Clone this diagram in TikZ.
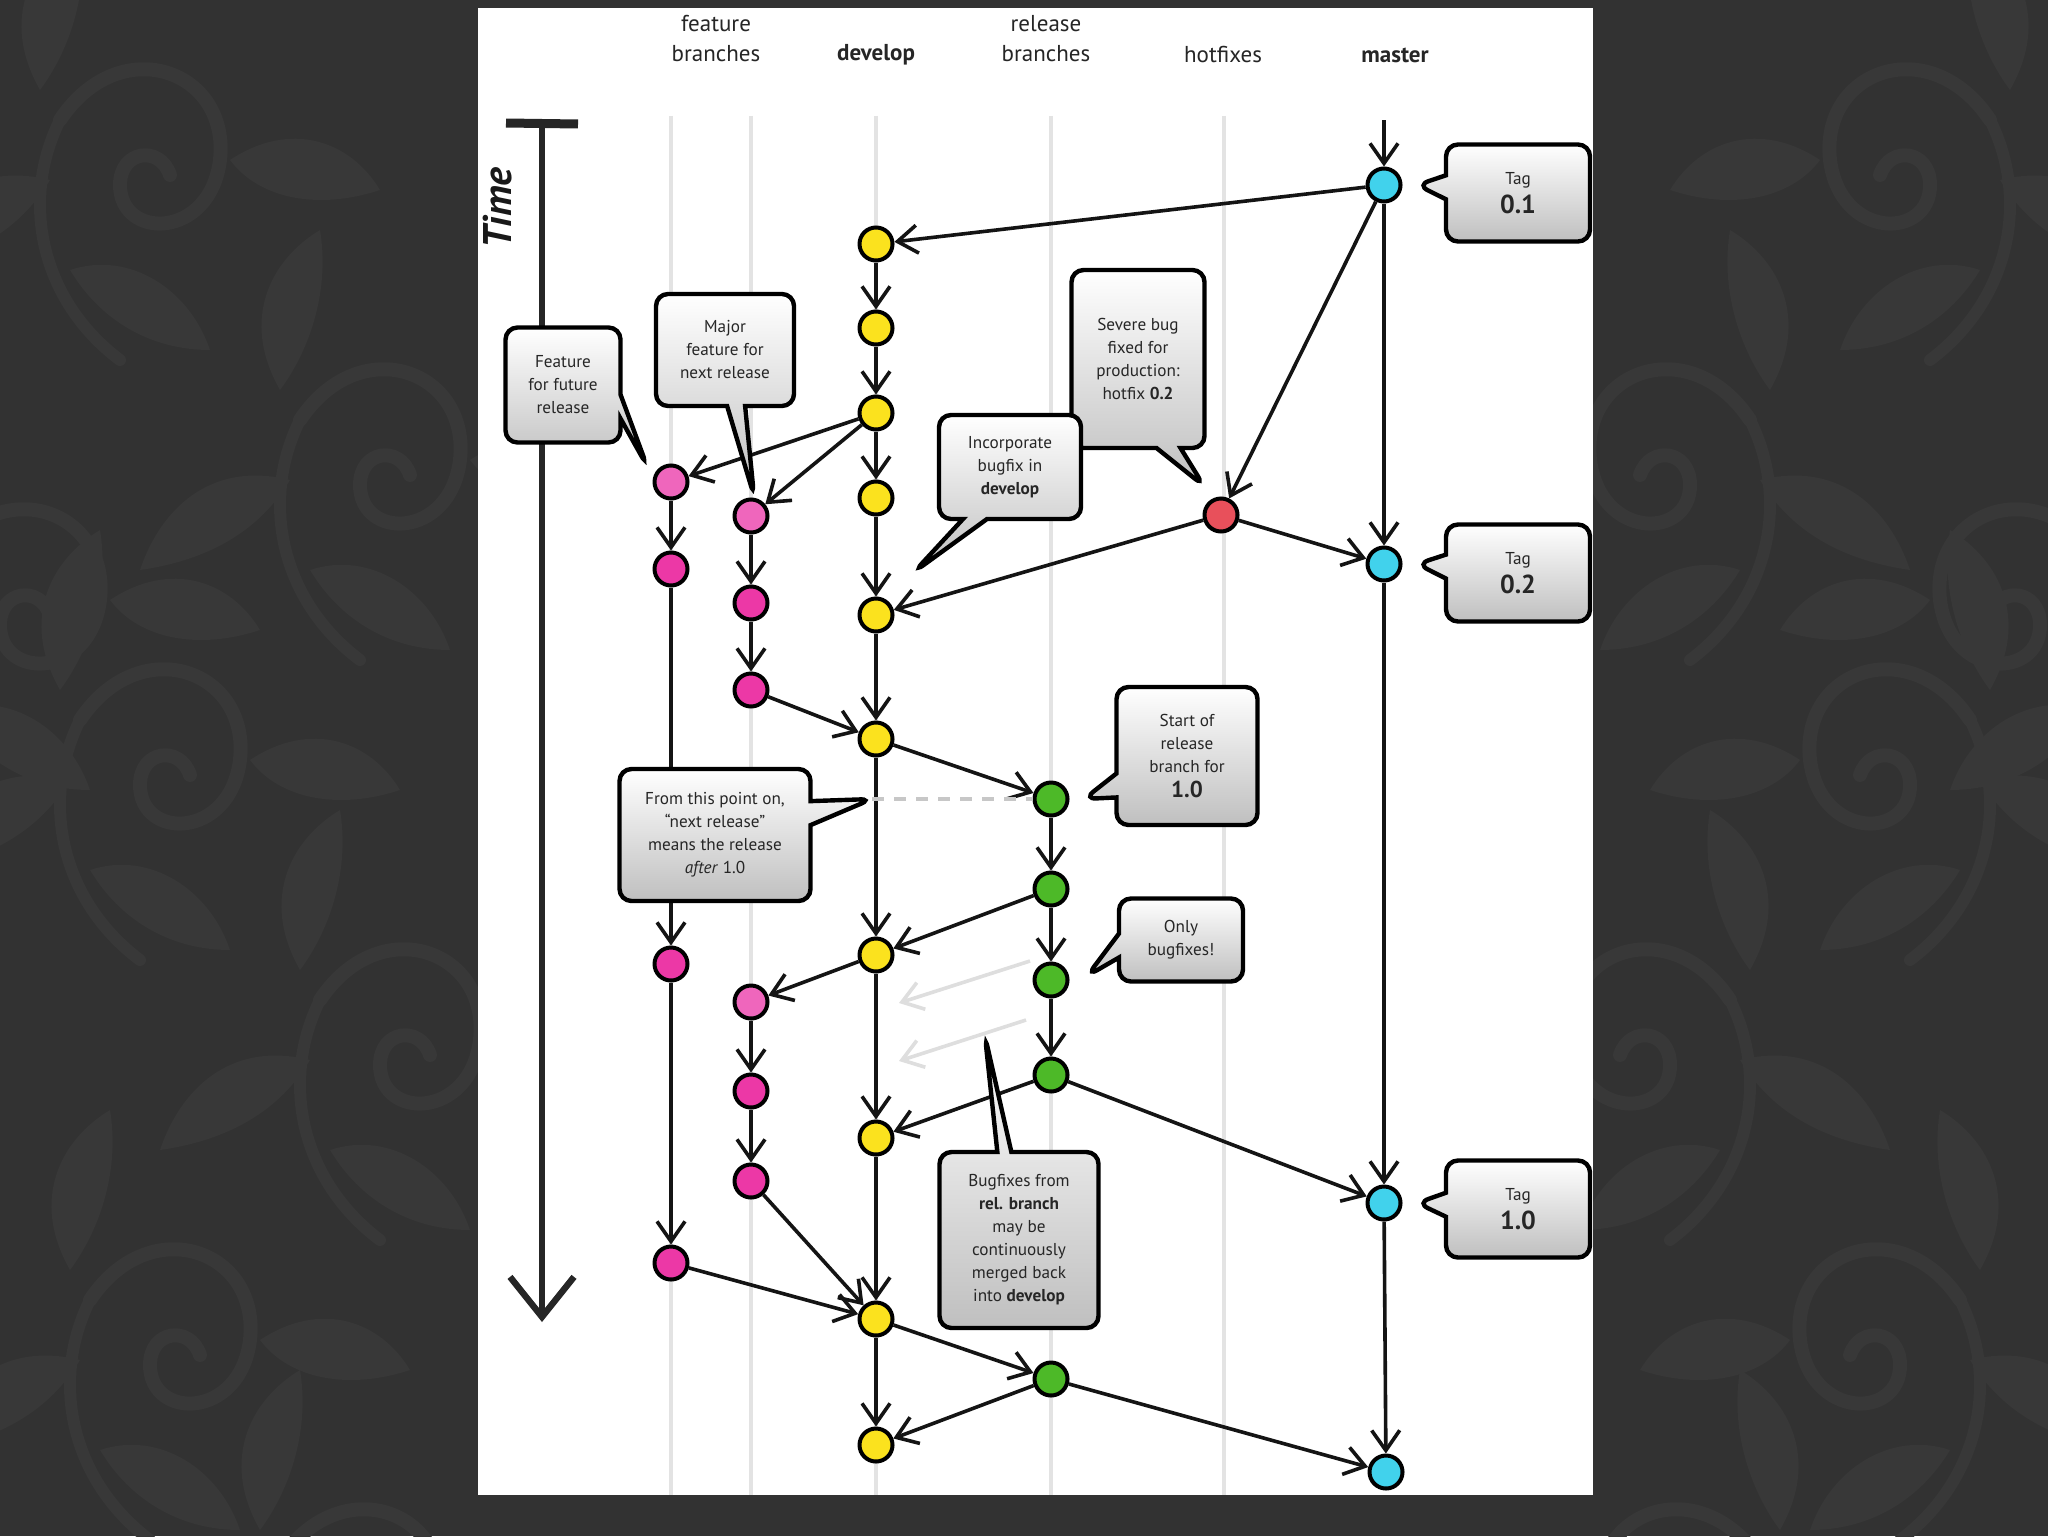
\documentclass[tikz,border=0pt]{standalone}
\usepackage{fontspec}
\setmainfont{PT Sans}
\usetikzlibrary{arrows.meta,shapes.callouts}
\definecolor{bgdark}{HTML}{323232}
\definecolor{bgpat}{HTML}{383838}
\definecolor{yel}{HTML}{FBE21E}
\definecolor{pinkL}{HTML}{EF66BC}
\definecolor{pinkD}{HTML}{EC38A6}
\definecolor{grn}{HTML}{4DB928}
\definecolor{cyn}{HTML}{41D2EC}
\definecolor{redc}{HTML}{E8505B}
\tikzset{
  commit/.style={circle, draw=black, line width=2pt, minimum size=16.5pt, inner sep=0pt},
  flow/.style={draw=black!92, line width=1.8pt, -{Straight Barb[length=10pt,width=14pt]}},
  faint/.style={draw=black!13, line width=1.8pt, -{Straight Barb[length=10pt,width=14pt]}},
  lane/.style={draw=black!11, line width=2.2pt},
  hdr/.style={align=center, font=\fontsize{11.5}{15}\selectfont, text=black!85, inner sep=0pt},
  cbox/.style={rectangle callout, draw=black, line width=2.2pt, rounded corners=6pt,
    top color=white, bottom color=black!25, align=center,
    font=\fontsize{8.6}{11.5}\selectfont, text=black!85, inner sep=2pt,
    callout pointer width=12pt},
  damask/.pic={
    \draw[bgpat, line width=7pt, line cap=round]
      (0,0) .. controls (60,-90) and (170,-50) .. (160,40)
            .. controls (150,120) and (60,120) .. (60,65)
            .. controls (60,30) and (100,25) .. (110,55);
    \draw[bgpat, line width=6pt, line cap=round]
      (0,0) .. controls (-40,80) and (-20,180) .. (60,240);
    \fill[bgpat] (-10,60) .. controls (-90,40) and (-140,90) .. (-160,150)
                 .. controls (-90,140) and (-40,110) .. (-10,60);
    \fill[bgpat] (10,150) .. controls (70,130) and (130,170) .. (150,230)
                 .. controls (90,230) and (40,200) .. (10,150);
    \fill[bgpat] (-20,-30) .. controls (-60,-100) and (-30,-160) .. (20,-190)
                 .. controls (30,-130) and (10,-70) .. (-20,-30);
    \fill[bgpat] (170,40) .. controls (230,0) and (290,20) .. (320,70)
                 .. controls (260,90) and (200,80) .. (170,40);
  },
}
\begin{document}
\begin{tikzpicture}[x=0.5pt,y=-0.5pt]
\useasboundingbox (0,0) rectangle (2048,1536);
\fill[bgdark] (0,0) rectangle (2048,1536);
\begin{scope}
\clip (0,0) rectangle (2048,1536);
\foreach \px/\py in {60/120,300/420,80/720,320/1000,90/1300,280/1560,-60/560}
  \pic at (\px,\py) {damask};
\foreach \px/\py in {1990/120,1750/420,1970/720,1730/1000,1960/1300,1760/1560,2100/560}
  \pic[xscale=-1] at (\px,\py) {damask};
\end{scope}
\fill[white] (478,8) rectangle (1593,1495);

% headers
\node[hdr] (hfeat) at (716,39) {feature\\branches};
\node[hdr] (hdev) at (876,55) {\textbf{develop}};
\node[hdr] (hrel) at (1046,39) {release\\branches};
\node[hdr] (hhot) at (1223,55) {hotfixes};
\node[hdr] (hmas) at (1395,55) {\textbf{master}};

% lanes
\foreach \x in {671,751,876,1051,1224} \draw[lane] (\x,116) -- (\x,1495);

% time axis
\node[rotate=90, font=\fontsize{20}{20}\selectfont\bfseries\itshape, text=black!90] (time) at (498,208) {Time};
\coordinate (t0) at (542,124);
\coordinate (t1) at (542,1322);
\coordinate (tb0) at (506,123);
\coordinate (tb1) at (578,124);
\draw[line width=4.5pt, black!85] (tb0) -- (tb1);
\draw[line width=3.2pt, black!85, -{Straight Barb[length=20pt,width=32pt]}] (t0) -- (t1);

% commits: develop
\node[commit,fill=yel] (D1) at (876,244) {};
\node[commit,fill=yel] (D2) at (876,328) {};
\node[commit,fill=yel] (D3) at (876,413) {};
\node[commit,fill=yel] (D4) at (876,498) {};
\node[commit,fill=yel] (D5) at (876,615) {};
\node[commit,fill=yel] (D6) at (876,739) {};
\node[commit,fill=yel] (D7) at (876,955) {};
\node[commit,fill=yel] (D8) at (876,1138) {};
\node[commit,fill=yel] (D9) at (876,1319) {};
\node[commit,fill=yel] (D10) at (876,1445) {};
% feature 1
\node[commit,fill=pinkL] (F1a) at (671,482) {};
\node[commit,fill=pinkD] (F1b) at (671,569) {};
\node[commit,fill=pinkD] (F1c) at (671,964) {};
\node[commit,fill=pinkD] (F1d) at (671,1263) {};
% feature 2
\node[commit,fill=pinkL] (F2a) at (751,516) {};
\node[commit,fill=pinkD] (F2b) at (751,603) {};
\node[commit,fill=pinkD] (F2c) at (751,690) {};
\node[commit,fill=pinkL] (F2d) at (751,1002) {};
\node[commit,fill=pinkD] (F2e) at (751,1091) {};
\node[commit,fill=pinkD] (F2f) at (751,1181) {};
% release
\node[commit,fill=grn] (R1) at (1051,799) {};
\node[commit,fill=grn] (R2) at (1051,889) {};
\node[commit,fill=grn] (R3) at (1051,980) {};
\node[commit,fill=grn] (R4) at (1051,1075) {};
\node[commit,fill=grn] (R5) at (1051,1379) {};
% hotfix
\node[commit,fill=redc] (H1) at (1221,515) {};
% master
\node[commit,fill=cyn] (M1) at (1384,185) {};
\node[commit,fill=cyn] (M2) at (1384,564) {};
\node[commit,fill=cyn] (M3) at (1384,1203) {};
\node[commit,fill=cyn] (M4) at (1386,1472) {};
\coordinate (Mtop) at (1384,120);

% connectors
\draw[flow] (Mtop) -- (M1);
\draw[flow] (M1) -- (D1);
\draw[flow] (M1) -- (H1);
\draw[flow] (M1) -- (M2);
\draw[flow] (M2) -- (M3);
\draw[flow] (M3) -- (M4);
\foreach \a/\b in {D1/D2,D2/D3,D3/D4,D4/D5,D5/D6,D6/D7,D7/D8,D8/D9,D9/D10}
  \draw[flow] (\a) -- (\b);
\draw[flow] (D3) -- (F1a);
\draw[flow] (D3) -- (F2a);
\draw[flow] (F1a) -- (F1b);
\draw[flow] (F1b) -- (F1c);
\draw[flow] (F1c) -- (F1d);
\draw[flow] (F1d) -- (D9);
\draw[flow] (F2a) -- (F2b);
\draw[flow] (F2b) -- (F2c);
\draw[flow] (F2c) -- (D6);
\draw[flow] (H1) -- (M2);
\draw[flow] (H1) -- (D5);
\draw[flow] (D6) -- (R1);
\draw[flow] (R1) -- (R2);
\draw[flow] (R2) -- (R3);
\draw[flow] (R3) -- (R4);
\draw[flow] (R2) -- (D7);
\draw[flow] (D7) -- (F2d);
\draw[flow] (F2d) -- (F2e);
\draw[flow] (F2e) -- (F2f);
\draw[flow] (F2f) -- (D9);
\draw[flow] (R4) -- (D8);
\draw[flow] (R4) -- (M3);
\draw[flow] (D9) -- (R5);
\draw[flow] (R5) -- (D10);
\draw[flow] (R5) -- (M4);

% faint possible merges
\coordinate (g1a) at (1030,961);
\coordinate (g1b) at (899,1003);
\coordinate (g2a) at (1026,1020);
\coordinate (g2b) at (899,1061);
\draw[faint] (g1a) -- (g1b);
\draw[faint] (g2a) -- (g2b);

% callout pointers
\coordinate (p01) at (1417,185);
\coordinate (p02) at (1417,564);
\coordinate (p10) at (1417,1203);
\coordinate (pfut) at (647,466);
\coordinate (pmaj) at (754,496);
\coordinate (psev) at (1204,486);
\coordinate (pinc) at (914,572);
\coordinate (pstr) at (1084,799);
\coordinate (pfrom) at (872,799);
\coordinate (ponly) at (1087,976);
\coordinate (pbug) at (985,1036);

\draw[draw=black!22, line width=1.6pt, dash pattern=on 6pt off 5pt] (pfrom) -- (R1);

% callouts
\node[cbox, minimum width=72pt, minimum height=48.5pt, callout absolute pointer={(p01)}] (c01) at (1518,193)
  {Tag\\[3pt]{\fontsize{13}{13}\selectfont\bfseries 0.1}};
\node[cbox, minimum width=72pt, minimum height=48.5pt, callout absolute pointer={(p02)}] (c02) at (1518,573)
  {Tag\\[3pt]{\fontsize{13}{13}\selectfont\bfseries 0.2}};
\node[cbox, minimum width=72pt, minimum height=48.5pt, callout absolute pointer={(p10)}] (c10) at (1518,1209)
  {Tag\\[3pt]{\fontsize{13}{13}\selectfont\bfseries 1.0}};
\node[cbox, minimum width=57.5pt, minimum height=57.5pt, callout absolute pointer={(pfut)}] (cfut) at (563,385)
  {Feature\\for future\\release};
\node[cbox, minimum width=69pt, minimum height=56pt, callout absolute pointer={(pmaj)}, callout pointer width=9pt] (cmaj) at (725,350)
  {Major\\feature for\\next release};
\node[cbox, minimum width=66.5pt, minimum height=89pt, callout absolute pointer={(psev)}] (csev) at (1138,359)
  {Severe bug\\fixed for\\production:\\hotfix \textbf{0.2}};
\node[cbox, minimum width=71pt, minimum height=52pt, callout absolute pointer={(pinc)}] (cinc) at (1010,467)
  {Incorporate\\bugfix in\\\textbf{develop}};
\node[cbox, minimum width=70.5pt, minimum height=69pt, callout absolute pointer={(pstr)}] (cstr) at (1187,756)
  {Start of\\release\\branch for\\[1pt]{\fontsize{11.5}{13}\selectfont\bfseries 1.0}};
\node[cbox, minimum width=95.5pt, minimum height=66pt, callout absolute pointer={(pfrom)}] (cfrom) at (715,835)
  {From this point on,\\“next release”\\means the release\\\textit{after} 1.0};
\node[cbox, minimum width=62pt, minimum height=41.5pt, callout absolute pointer={(ponly)}] (conly) at (1181,940)
  {Only\\bugfixes!};
\node[cbox, minimum width=79.5pt, minimum height=88pt, callout absolute pointer={(pbug)}, callout pointer width=7pt] (cbug) at (1019,1240)
  {Bugfixes from\\\textbf{rel. branch}\\may be\\continuously\\merged back\\into \textbf{develop}};
\end{tikzpicture}
\end{document}
